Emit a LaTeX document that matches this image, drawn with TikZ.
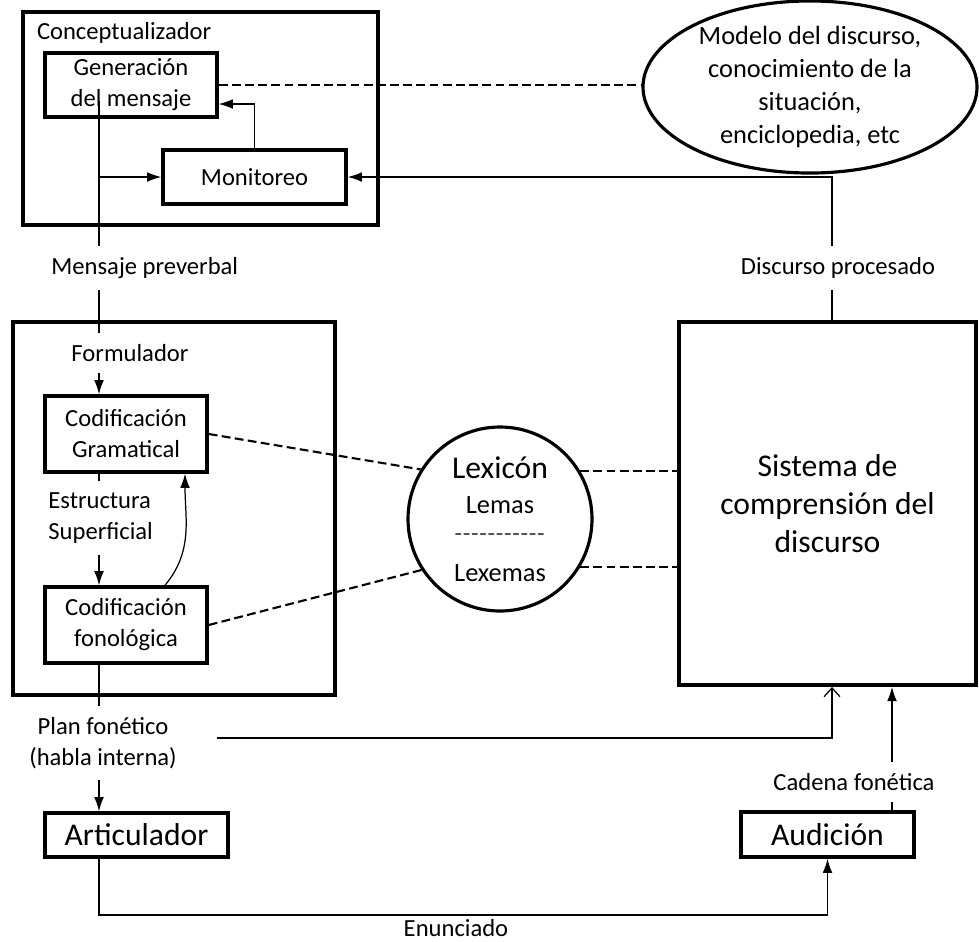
\documentclass[tikz,border=0pt]{standalone}
\usepackage{fontspec}
\setmainfont{Carlito}
\usetikzlibrary{arrows.meta,shapes.geometric}

\newcommand{\normtxt}{\fontsize{14}{17.6}\selectfont}
\newcommand{\midtxt}{\fontsize{15}{18.8}\selectfont}
\newcommand{\bigtxt}{\fontsize{18}{21.6}\selectfont}
\newcommand{\hyrow}{\foreach \i in {1,...,11}{-\kern0.4pt}}

\begin{document}
\begin{tikzpicture}[>={Latex[length=8pt,width=5.5pt]},
	frame/.style={draw, line width=2.2pt},
	box/.style={draw, line width=2pt, align=center, font=\normtxt, inner sep=0pt},
	link/.style={line width=0.7pt},
	dashlink/.style={line width=1.2pt, dash pattern=on 5pt off 2.5pt},
	lbl/.style={font=\normtxt, align=center, inner sep=0pt, outer sep=6.5pt}]
	\useasboundingbox (0,0) rectangle (19.58,-18.82);
	\coordinate (spine) at (1.98,0);
	\coordinate (fbx) at (16.64,0);
	\coordinate (hear) at (17.84,0);
	\coordinate (pfstart) at (4.34,-14.76);
	\coordinate (bottomrun) at (0,-18.3);

	% conceptualizador
	\node[frame, minimum width=7.1cm, minimum height=4.26cm] (conc) at (4.01,-2.37) {};
	\node[lbl, anchor=west, outer sep=0pt] (conclbl) at (0.74,-0.66) {Conceptualizador};
	\node[box, minimum width=3.44cm, minimum height=1.28cm] (gen) at (2.62,-1.70) {Generación\\del mensaje};
	\node[box, minimum width=3.66cm, minimum height=1.08cm] (mon) at (5.09,-3.54) {Monitoreo};
	\node[ellipse, draw, line width=1.8pt, minimum width=6.68cm, minimum height=3cm,
		inner sep=0pt, align=center, font=\midtxt] (mod) at (16.2,-1.74)
		{Modelo del discurso,\\conocimiento de la\\situación,\\enciclopedia, etc};
	\node[lbl, anchor=west] (mpv) at (0.8,-5.36) {Mensaje preverbal};

	% formulador
	\node[frame, minimum width=6.44cm, minimum height=7.46cm] (form) at (3.48,-10.17) {};
	\node[lbl] (formlbl) at (2.6,-7.06) {Formulador};
	\node[box, minimum width=3.24cm, minimum height=1.52cm] (codg) at (2.52,-8.68) {Codificación\\Gramatical};
	\node[lbl, anchor=west, align=left] (estr) at (0.74,-10.36) {Estructura\\Superficial};
	\node[box, minimum width=3.24cm, minimum height=1.52cm] (codf) at (2.52,-12.5) {Codificación\\fonológica};
	\node[lbl] (plan) at (2.06,-14.86) {Plan fonético\\(habla interna)};
	\node[box, font=\bigtxt, minimum width=3.66cm, minimum height=0.88cm] (artic) at (2.73,-16.7) {Articulador};

	% lexicon
	\node[circle, draw, line width=1.8pt, minimum size=3.68cm] (lex) at (10,-10.38) {};
	\node[font=\bigtxt, inner sep=0pt] (lexi) at (10,-9.36) {Lexicón};
	\node[font=\midtxt, inner sep=0pt] (lemas) at (10,-10.1) {Lemas};
	\node[font=\normtxt, text=black!75, inner sep=0pt] (lexsep) at (10,-10.76) {\hyrow};
	\node[font=\midtxt, inner sep=0pt] (lexemas) at (10,-11.46) {Lexemas};

	% comprension
	\node[frame, font=\bigtxt, align=center, minimum width=5.94cm, minimum height=7.26cm] (comp) at (16.55,-10.07)
		{Sistema de\\comprensión del\\discurso};
	\node[lbl] (dproc) at (16.76,-5.36) {Discurso procesado};
	\node[lbl] (cad) at (17.08,-15.64) {Cadena fonética};
	\node[box, font=\bigtxt, minimum width=3.46cm, minimum height=0.9cm] (aud) at (16.55,-16.69) {Audición};
	\node[font=\normtxt, inner sep=0pt, anchor=north] (enun) at (9.12,-18.38) {Enunciado};

	% conexiones
	\draw[link] ([yshift=3.6mm]gen.south -| spine) -- (mpv.north -| spine);
	\draw[link,->] (spine |- mon.west) -- (mon.west);
	\draw[link,->] (mon.north) |- ([yshift=-3.8mm]gen.east);
	\draw[dashlink] (gen.east) -- (gen.east -| mod.west);
	\draw[link] (mpv.south -| spine) -- (formlbl.north -| spine);
	\draw[link,->] (formlbl.south -| spine) -- (codg.north -| spine);
	\draw[link] (codg.south -| spine) -- (estr.north -| spine);
	\draw[link,->] (estr.south -| spine) -- (codf.north -| spine);
	\draw[link,->] ([xshift=7.8mm]codf.north) to[out=50,in=-90] ([xshift=11.8mm]codg.south);
	\draw[link] (codf.south -| spine) -- (plan.north -| spine);
	\draw[link,->] (plan.south -| spine) -- (artic.north -| spine);
	\draw[link,->] (artic.south -| spine) -- (spine |- bottomrun) -- (aud.south |- bottomrun) -- (aud.south);
	\draw[link,-{Straight Barb[length=5pt,width=9pt]}] (pfstart) -| (comp.south -| fbx);
	\draw[link] (aud.north -| hear) -- (cad.south -| hear);
	\draw[link,->] (cad.north -| hear) -- (comp.south -| hear);
	\draw[link] (comp.north -| fbx) -- (dproc.south -| fbx);
	\draw[link,->] (dproc.north -| fbx) |- (mon.east);
	\draw[dashlink] (codg.east) -- (lex.148);
	\draw[dashlink] (codf.east) -- (lex.213);
	\draw[dashlink] (lex.31) -- (lex.31 -| comp.west);
	\draw[dashlink] (lex.-31) -- (lex.-31 -| comp.west);
\end{tikzpicture}
\end{document}
